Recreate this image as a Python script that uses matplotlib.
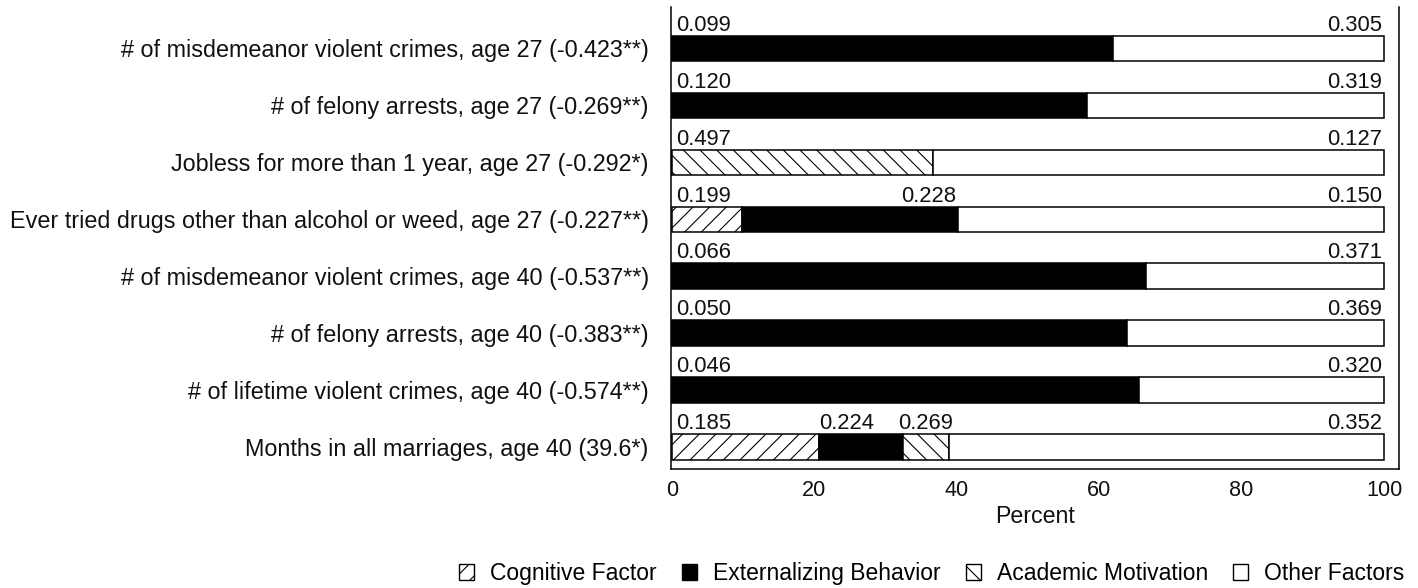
import matplotlib
matplotlib.use("Agg")
import matplotlib.pyplot as plt
from matplotlib.patches import Patch

plt.rcParams["font.family"] = ["Liberation Sans", "DejaVu Sans"]
plt.rcParams["hatch.linewidth"] = 0.8
plt.rcParams["hatch.color"] = "#444444"

# Outcomes, top to bottom, with total effect in parentheses
categories = [
    "# of misdemeanor violent crimes, age 27 (-0.423**)",
    "# of felony arrests, age 27 (-0.269**)",
    "Jobless for more than 1 year, age 27 (-0.292*)",
    "Ever tried drugs other than alcohol or weed, age 27 (-0.227**)",
    "# of misdemeanor violent crimes, age 40 (-0.537**)",
    "# of felony arrests, age 40 (-0.383**)",
    "# of lifetime violent crimes, age 40 (-0.574**)",
    "Months in all marriages, age 40 (39.6*)",
]

# Share of the effect explained by each factor (percent)
cognitive_pct = [0.0, 0.0, 0.0, 9.8, 0.0, 0.0, 0.0, 20.7]
external_pct = [62.0, 58.3, 0.0, 30.4, 66.6, 63.9, 65.6, 11.8]
academic_pct = [0.0, 0.0, 36.7, 0.0, 0.0, 0.0, 0.0, 6.4]
other_pct = [100.0 - c - e - a for c, e, a in zip(cognitive_pct, external_pct, academic_pct)]

# Coefficient printed above each segment (None = no label)
cognitive_val = [None, None, None, "0.199", None, None, None, "0.185"]
external_val = ["0.099", "0.120", None, "0.228", "0.066", "0.050", "0.046", "0.224"]
academic_val = [None, None, "0.497", None, None, None, None, "0.269"]
other_val = ["0.305", "0.319", "0.127", "0.150", "0.371", "0.369", "0.320", "0.352"]

factor_names = ["Cognitive Factor", "Externalizing Behavior", "Academic Motivation", "Other Factors"]

TXT = "#111111"

fig = plt.figure(figsize=(14.18, 5.88), dpi=100)
ax = fig.add_axes([0.4732, 0.2024, 0.5134, 0.7856])

styles = [
    dict(facecolor="white", hatch="//"),
    dict(facecolor="black"),
    dict(facecolor="white", hatch="\\\\"),
    dict(facecolor="white"),
]
series_pct = [cognitive_pct, external_pct, academic_pct, other_pct]
series_val = [cognitive_val, external_val, academic_val, other_val]

ypos = list(range(len(categories)))
bar_h = 0.44
left = [0.0] * len(categories)
spans = []
for pct, st in zip(series_pct, styles):
    ax.barh(ypos, pct, left=left, height=bar_h, edgecolor="black",
            linewidth=1.1, **st)
    spans.append([(l, l + p) for l, p in zip(left, pct)])
    left = [l + p for l, p in zip(left, pct)]

# Placement of labels for interior segments: (row, factor) -> alignment
interior_align = {(3, 1): "right", (7, 1): "left", (7, 2): "center"}

for k, vals in enumerate(series_val):
    for i, v in enumerate(vals):
        if v is None:
            continue
        x0, x1 = spans[k][i]
        first = all(series_pct[j][i] == 0 for j in range(k))
        if k == 3:
            ha, x, dx = "right", x1, -2
        elif first:
            ha, x, dx = "left", x0, 4
        else:
            ha = interior_align.get((i, k), "left")
            x = {"left": x0, "right": x1, "center": (x0 + x1) / 2}[ha]
            dx = {"left": 0, "right": -2, "center": 0}[ha]
        ax.annotate(v, xy=(x, i - bar_h / 2), xytext=(dx * 0.72, 0),
                    textcoords="offset points", ha=ha, va="bottom",
                    fontsize=15.8, color=TXT)

ax.set_xlim(-0.1, 102.1)
ax.set_ylim(7.386, -0.72)
ax.set_yticks(ypos)
ax.set_yticklabels(categories, fontsize=16.8, color=TXT)
ax.set_xticks([0, 20, 40, 60, 80, 100])
ax.tick_params(axis="both", length=0, colors=TXT)
ax.tick_params(axis="x", labelsize=15.6, pad=8)
ax.tick_params(axis="y", pad=16)
ax.set_xlabel("Percent", fontsize=16.7, color=TXT, labelpad=3)
ax.spines["top"].set_visible(False)
for s in ["left", "right", "bottom"]:
    ax.spines[s].set_linewidth(1.1)

handles = [Patch(edgecolor="black", linewidth=1.0, **st) for st in styles]
fig.legend(handles, factor_names, loc="lower right", bbox_to_anchor=(1.005, -0.03),
           ncol=4, frameon=False, fontsize=16.5, handlelength=0.65, handleheight=0.65,
           handletextpad=0.7, columnspacing=1.1)

fig.savefig("out.png", dpi=100, facecolor="white")
